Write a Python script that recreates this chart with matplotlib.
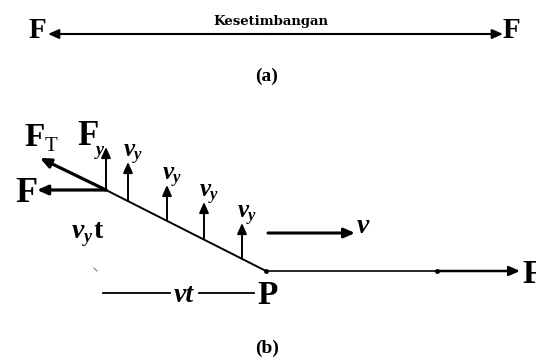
import matplotlib.pyplot as plt

plt.rcParams['font.family'] = ['Liberation Serif', 'DejaVu Serif']

# (a) tali dalam keadaan setimbang, koordinat dalam piksel gambar
rope_a_x = [48, 503]
rope_a_y = 34

# (b) tali yang digetarkan
kink = (106, 190)
point_p = (266, 271)
rope_end_x = 437
force_tip_x = 520

# panah kecepatan transversal v_y sepanjang tali miring
vy_x = [128, 167, 204, 242]
vy_base = [201, 220, 239, 259]
vy_top = [162, 185, 202, 223]

# panah gaya di titik patahan
ft_tip = (40, 158)
fy_top = 147
fx_tip = 37

# panah v dan garis vt
v_arrow_x = [268, 355]
v_arrow_y = 233
vt_y = 293
vt_left = [103, 170]
vt_right = [199, 254]

fig = plt.figure(figsize=(5.36, 3.62), dpi=100)
ax = fig.add_axes([0, 0, 1, 1])
ax.set_xlim(0, 536)
ax.set_ylim(362, 0)
ax.axis('off')


def arrow(x0, y0, x1, y1, lw=1.6, hl=0.9, hw=0.4):
    ax.annotate('', xy=(x1, y1), xytext=(x0, y0),
                arrowprops=dict(arrowstyle=f'-|>,head_length={hl},head_width={hw}',
                                lw=lw, color='black', shrinkA=0, shrinkB=0,
                                mutation_scale=7))


bold = dict(fontweight='bold', color='black')
bi = dict(fontweight='bold', fontstyle='italic', color='black')

# ---------- (a) ----------
arrow(265, rope_a_y, rope_a_x[0], rope_a_y, lw=1.5)
arrow(265, rope_a_y, rope_a_x[1], rope_a_y, lw=1.5)
ax.text(29, 38, 'F', fontsize=21, va='baseline', ha='left', **bold)
ax.text(503, 38, 'F', fontsize=21, va='baseline', ha='left', **bold)
ax.text(271, 25, 'Kesetimbangan', fontsize=9.5, va='baseline', ha='center',
        family='DejaVu Serif', **bold)
ax.text(267, 81, '(a)', fontsize=14, va='baseline', ha='center', **bold)

# ---------- (b) ----------
# tali miring dan tali mendatar
ax.plot([kink[0], point_p[0]], [kink[1], point_p[1]], color='black', lw=1.4)
ax.plot([point_p[0], rope_end_x], [point_p[1], point_p[1]], color='black', lw=1.2)
ax.plot([point_p[0], rope_end_x], [point_p[1], point_p[1]], 'o', color='black', ms=2.5)
arrow(rope_end_x, point_p[1], force_tip_x, point_p[1], lw=1.8)
ax.text(522, 283, 'F', fontsize=24, va='baseline', ha='left', **bold)

# gaya di titik patahan
arrow(kink[0], kink[1], ft_tip[0], ft_tip[1], lw=2.3)
arrow(kink[0], kink[1], kink[0], fy_top, lw=1.4)
arrow(kink[0], kink[1], fx_tip, kink[1], lw=2.3)
ax.text(24, 146, 'F', fontsize=24, va='baseline', ha='left', **bold)
ax.text(45, 151, 'T', fontsize=15, va='baseline', ha='left', color='black')
ax.text(77, 145, 'F', fontsize=25, va='baseline', ha='left', **bold)
ax.text(96, 155, 'y', fontsize=13, va='baseline', ha='left', **bi)
ax.text(15, 202, 'F', fontsize=26, va='baseline', ha='left', **bold)

# kecepatan transversal
for x, yb, yt in zip(vy_x, vy_base, vy_top):
    arrow(x, yb, x, yt, lw=1.4)
    ax.text(x - 4, yt - 6, 'v', fontsize=18, va='baseline', ha='left', **bi)
    ax.text(x + 6, yt - 3, 'y', fontsize=12, va='baseline', ha='left', **bi)

# kecepatan gelombang
arrow(v_arrow_x[0], v_arrow_y, v_arrow_x[1], v_arrow_y, lw=2.2)
ax.text(357, 233, 'v', fontsize=20, va='baseline', ha='left', **bi)

# v_y t
ax.text(72, 238, 'v', fontsize=20, va='baseline', ha='left', **bi)
ax.text(84, 242, 'y', fontsize=13, va='baseline', ha='left', **bi)
ax.text(93, 238, 't', fontsize=20, va='baseline', ha='left', **bold)

# garis vt
ax.plot([94, 97], [268, 271], color='grey', lw=0.8)
ax.plot(vt_left, [vt_y, vt_y], color='black', lw=1.3)
ax.plot(vt_right, [vt_y, vt_y], color='black', lw=1.3)
ax.text(184, 302, 'vt', fontsize=20, va='baseline', ha='center', **bi)
ax.text(257, 304, 'P', fontsize=24, va='baseline', ha='left', **bold)

ax.text(267, 353, '(b)', fontsize=14, va='baseline', ha='center', **bold)

fig.savefig('out.png', dpi=100)
